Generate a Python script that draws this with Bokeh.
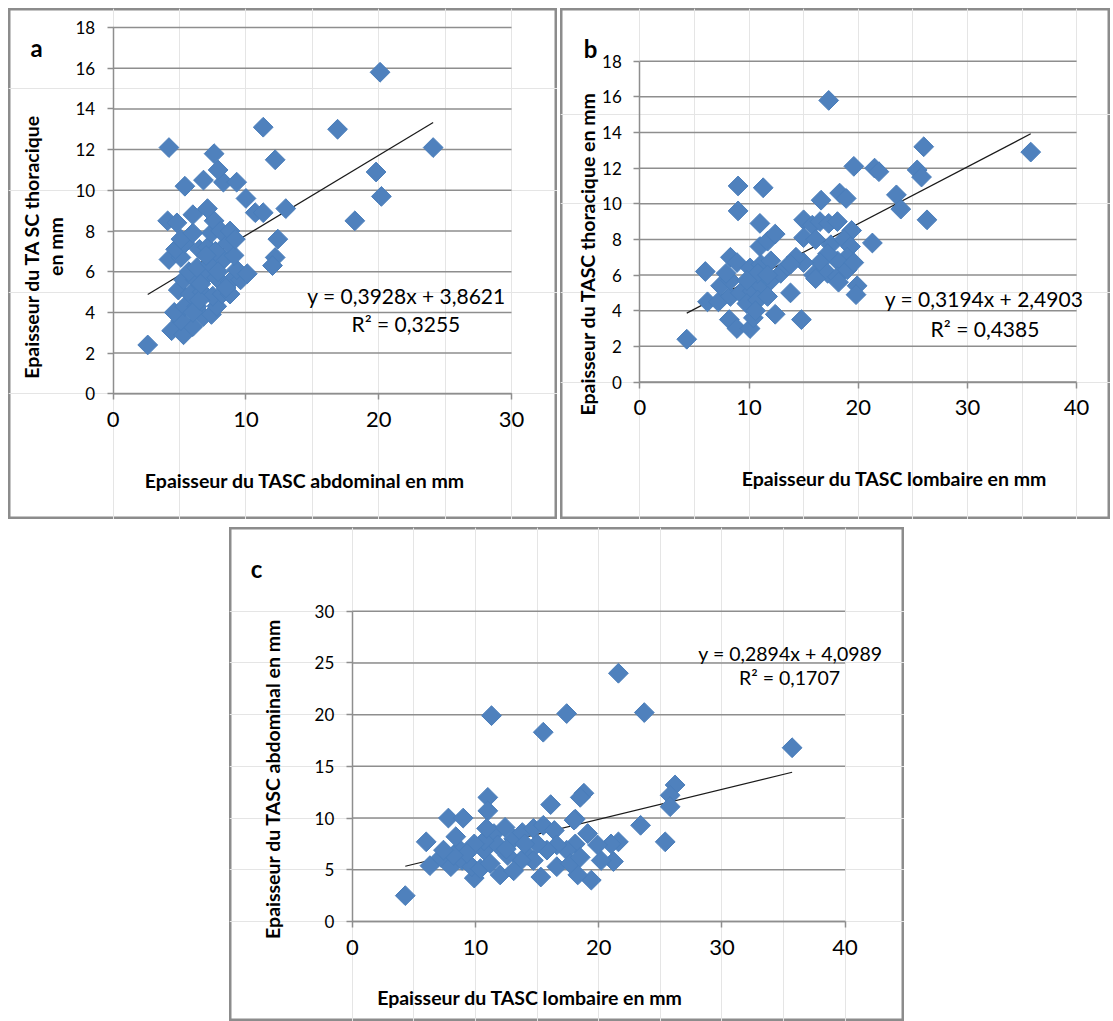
import math

from bokeh.embed import file_html
from bokeh.layouts import column, row
from bokeh.models import FixedTicker, Label, LinearAxis, Range1d, Spacer
from bokeh.plotting import figure
from bokeh.resources import INLINE

# ---------------------------------------------------------------------------
# Data: subcutaneous adipose tissue thickness (mm)
# ---------------------------------------------------------------------------

# (a) abdominal (x) vs thoracic (y)
a_abdominal = [2.6, 4.4, 5.3, 6.0, 5.1, 6.8, 7.4, 4.6, 5.4, 6.3, 6.0, 7.8,
               4.9, 5.8, 6.7, 7.5, 8.2, 8.8, 6.5, 5.3, 6.2, 7.0, 7.8, 8.8,
               9.6, 8.5, 6.6, 9.3, 10.1, 5.7, 6.3, 7.3, 8.3, 9.1, 7.9, 4.2,
               5.1, 6.5, 7.1, 7.7, 8.6, 7.0, 4.7, 5.4, 5.1, 6.0, 7.4, 7.6,
               8.1, 8.8, 9.2, 12.4, 12.2, 12.0, 4.1, 4.8, 6.0, 7.1, 10.7,
               11.3, 13.0, 10.0, 5.4, 6.8, 8.3, 9.3, 7.9, 7.6, 4.2, 12.2,
               11.3, 16.9, 20.1, 19.8, 20.2, 18.2, 24.1]
a_thoracic = [2.4, 3.1, 2.9, 3.3, 3.6, 3.8, 3.9, 4.0, 4.3, 4.3, 4.0, 4.3,
              5.1, 4.9, 5.0, 4.8, 4.9, 4.9, 4.6, 5.6, 5.6, 5.8, 5.7, 5.5,
              5.6, 5.2, 5.4, 6.1, 5.9, 6.0, 6.2, 6.4, 6.6, 6.8, 6.0, 6.6,
              6.7, 7.1, 7.2, 7.0, 7.4, 6.8, 7.1, 7.4, 7.6, 7.9, 7.9, 8.5,
              8.0, 8.0, 7.6, 7.6, 6.7, 6.3, 8.5, 8.4, 8.8, 9.1, 8.9,
              8.9, 9.1, 9.6, 10.2, 10.5, 10.4, 10.4, 11.0, 11.8, 12.1, 11.5,
              13.1, 13.0, 15.8, 10.9, 9.7, 8.5, 12.1]

# (b) lumbar (x) vs thoracic (y)
b_lumbar = [4.3, 6.0, 6.2, 7.2, 8.3, 9.2, 10.3, 11.1, 12.0, 12.9, 13.5,
            7.4, 8.3, 7.9, 8.3, 8.9, 10.1, 11.1, 12.0, 10.8, 11.7, 9.8,
            9.8, 10.8, 11.7, 12.4, 13.8, 14.8, 8.2, 8.9, 10.1, 10.4, 10.6,
            11.0, 11.7, 12.4, 11.0, 9.0, 11.3, 9.0,
            15.0, 15.8, 16.5, 17.3, 18.1, 19.4, 15.0, 16.1, 17.5, 18.7,
            19.3, 19.0, 18.1, 17.2, 16.5, 15.0, 14.3, 13.8, 15.9, 17.2,
            18.1, 19.0, 19.6, 19.9, 19.8, 18.2, 16.1, 16.6, 18.3, 18.9,
            19.6, 21.5, 21.9, 23.5, 23.9, 21.3, 25.4, 25.8, 26.0, 26.3,
            35.8, 17.3]
b_thoracic = [2.4, 6.2, 4.5, 4.5, 4.8, 5.0, 5.1, 5.4, 5.7, 6.1, 6.5,
              5.4, 5.7, 6.1, 7.0, 6.7, 6.4, 6.6, 6.8, 6.1, 6.0, 5.7,
              4.4, 4.6, 4.8, 3.8, 5.0, 3.5, 3.5, 3.0, 3.0, 3.6, 4.0,
              7.6, 7.9, 8.3, 8.9, 11.0, 10.9, 9.6,
              9.1, 8.8, 9.0, 8.9, 9.0, 8.5, 8.1, 8.0, 7.7, 8.0,
              7.6, 7.0, 6.8, 7.2, 6.7, 6.7, 7.0, 6.6, 6.0, 6.1,
              5.9, 6.3, 6.7, 5.4, 4.9, 5.6, 5.8, 10.2, 10.6, 10.3,
              12.1, 12.0, 11.8, 10.5, 9.7, 7.8, 11.9, 11.5, 13.2, 9.1,
              12.9, 15.8]

# (c) lumbar (x) vs abdominal (y)
c_lumbar = [4.3, 6.0, 6.3, 7.8, 9.0, 11.0, 11.0, 16.1, 18.8, 18.5,
            11.3, 15.5, 17.4, 23.7, 21.6, 35.7, 26.2, 25.8, 25.8,
            23.4, 18.1, 25.4, 21.6, 21.2, 20.2, 21.0, 19.4, 15.3, 12.0,
            9.9, 18.3, 16.6, 7.2, 8.0, 8.7, 8.4, 8.9, 9.7, 10.4, 10.7,
            11.5, 12.4, 13.1, 13.8, 14.7, 15.5, 16.4, 18.0, 19.1, 19.9,
            18.1, 17.4, 16.6, 15.8, 15.0, 14.2, 14.7, 13.7, 12.6, 11.8,
            10.7, 9.9, 9.3, 8.2, 7.4, 17.7, 18.5, 13.1, 11.2, 12.5,
            14.0, 10.9]
c_abdominal = [2.5, 7.7, 5.4, 10.0, 10.0, 12.0, 10.7, 11.3, 12.4, 12.0,
               19.9, 18.3, 20.1, 20.2, 24.0, 16.8, 13.2, 12.2, 11.1,
               9.3, 9.9, 7.7, 7.7, 5.8, 5.9, 7.5, 4.0, 4.3, 4.5,
               4.2, 4.5, 5.3, 6.2, 5.3, 7.0, 8.2, 5.9, 5.3, 5.1, 6.9,
               8.5, 9.1, 8.0, 8.6, 9.0, 9.3, 8.8, 9.8, 8.5, 7.4,
               7.5, 6.9, 7.4, 6.9, 7.5, 6.4, 5.9, 5.9, 6.4, 7.4,
               7.8, 7.5, 6.6, 6.4, 6.9, 5.6, 6.2, 4.9, 5.6, 7.0,
               7.5, 9.0]

# Linear trend lines (slope, intercept, R²)
a_fit = (0.3928, 3.8621, 0.3255)
b_fit = (0.3194, 2.4903, 0.4385)
c_fit = (0.2894, 4.0989, 0.1707)

# Axis limits and tick values
a_xlim, a_ylim = (0, 30), (0, 18)
b_xlim, b_ylim = (0, 40), (0, 18)
c_xlim, c_ylim = (0, 40), (0, 30)
a_xticks = [0, 10, 20, 30]
a_yticks = [0, 2, 4, 6, 8, 10, 12, 14, 16, 18]
b_xticks = [0, 10, 20, 30, 40]
b_yticks = [0, 2, 4, 6, 8, 10, 12, 14, 16, 18]
c_xticks = [0, 10, 20, 30, 40]
c_yticks = [0, 5, 10, 15, 20, 25, 30]

# ---------------------------------------------------------------------------
# Styling
# ---------------------------------------------------------------------------
FONT = "Lato"
MARKER_FILL = "#4F81BD"
MARKER_LINE = "#4A7EBB"
GRID = "#8e8e8e"
FRAME = "#8c8c8c"
TEXT = "#000000"


def fmt(v, nd):
    return f"{v:.{nd}f}".replace(".", ",")


class Geometry:
    """Maps pixel positions inside a chart box to data coordinates."""

    def __init__(self, size, plot_box, xlim, ylim):
        self.W, self.H = size
        self.L, self.R, self.T, self.B = plot_box
        self.xlim, self.ylim = xlim, ylim
        self.sx = (self.R - self.L) / (xlim[1] - xlim[0])
        self.sy = (self.B - self.T) / (ylim[1] - ylim[0])

    def x_range(self):
        return Range1d(self.xlim[0] - self.L / self.sx,
                       self.xlim[1] + (self.W - self.R) / self.sx)

    def y_range(self):
        return Range1d(self.ylim[0] - (self.H - self.B) / self.sy,
                       self.ylim[1] + self.T / self.sy)

    def data(self, px, py):
        return (self.xlim[0] + (px - self.L) / self.sx,
                self.ylim[0] + (self.B - py) / self.sy)


def add_text(p, g, text, px, py, size, bold=False, angle=0.0,
             baseline="middle"):
    x, y = g.data(px, py)
    p.add_layout(Label(x=x, y=y, text=text, angle=angle, text_align="center",
                       text_baseline=baseline, text_font=FONT,
                       text_font_size=f"{size}px",
                       text_font_style="bold" if bold else "normal",
                       text_color=TEXT))


def style_axis(ax, label_size, standoff):
    ax.axis_line_color = GRID
    ax.axis_line_width = 1.5
    ax.major_tick_line_color = GRID
    ax.major_tick_line_width = 1.5
    ax.major_tick_in = 0
    ax.major_tick_out = 6
    ax.minor_tick_line_color = None
    ax.major_label_text_font = FONT
    ax.major_label_text_font_size = f"{label_size}px"
    ax.major_label_text_color = TEXT
    ax.major_label_standoff = standoff


def panel(xs, ys, fit, g, xticks, yticks, letter, letter_pos, ylabels,
          xlabel, eq_pos, eq_size):
    p = figure(width=g.W, height=g.H, x_range=g.x_range(),
               y_range=g.y_range(), min_border=0, title=None,
               x_axis_location=None, y_axis_location=None,
               output_backend="svg", toolbar_location=None,
               background_fill_color="white", border_fill_color="white")
    # chart box border
    p.outline_line_color = FRAME
    p.outline_line_width = 4

    x0, x1 = g.xlim
    y0, y1 = g.ylim

    # horizontal gridlines at each y tick, spanning the axis extent
    p.segment(x0=[x0] * len(yticks), x1=[x1] * len(yticks),
              y0=yticks, y1=yticks, line_color=GRID, line_width=1.5)

    xaxis = LinearAxis(fixed_location=y0, bounds=(x0, x1),
                       ticker=FixedTicker(ticks=xticks))
    yaxis = LinearAxis(fixed_location=x0, bounds=(y0, y1),
                       ticker=FixedTicker(ticks=yticks))
    style_axis(xaxis, 22, 12)
    style_axis(yaxis, 17, 12)
    p.add_layout(xaxis, "below")
    p.add_layout(yaxis, "left")

    # trend line over the observed x span
    slope, intercept, r2 = fit
    lo, hi = min(xs), max(xs)
    p.line([lo, hi], [slope * lo + intercept, slope * hi + intercept],
           line_color="#1a1a1a", line_width=1.2)

    p.scatter(xs, ys, marker="square", size=14, angle=math.pi / 4,
              fill_color=MARKER_FILL, line_color=MARKER_LINE, line_width=1)

    eq = f"y = {fmt(slope, 4)}x + {fmt(intercept, 4)}"
    r2t = f"R\u00b2 = {fmt(r2, 4)}"
    add_text(p, g, eq, eq_pos[0], eq_pos[1], eq_size)
    add_text(p, g, r2t, eq_pos[2], eq_pos[3], eq_size)

    add_text(p, g, letter, letter_pos[0], letter_pos[1], 24, bold=True,
             baseline="alphabetic")
    for t, lx, ly in ylabels:
        add_text(p, g, t, lx, ly, 19.5, bold=True, angle=math.pi / 2)
    add_text(p, g, xlabel[0], xlabel[1], xlabel[2], 19.5, bold=True)
    return p


ga = Geometry((549, 511), (104.7, 503.0, 19.0, 385.3), a_xlim, a_ylim)
gb = Geometry((550, 511), (79.3, 516.1, 52.7, 373.5), b_xlim, b_ylim)
gc = Geometry((675, 494), (122.8, 615.6, 83.7, 394.0), c_xlim, c_ylim)

fa = panel(a_abdominal, a_thoracic, a_fit, ga, a_xticks, a_yticks,
           "a", (28, 39),
           [("Epaisseur du TA SC thoracique", 23, 238),
            ("en mm", 47, 238)],
           ("Epaisseur du TASC abdominal en mm", 296.5, 472),
           (398, 287, 397.4, 315.3), 21)

fb = panel(b_lumbar, b_thoracic, b_fit, gb, b_xticks, b_yticks,
           "b", (30, 40),
           [("Epaisseur du TASC thoracique en mm", 27, 245.3)],
           ("Epaisseur du TASC lombaire en mm", 334, 470),
           (423.6, 290.3, 424.5, 320.3), 21)

fc = panel(c_lumbar, c_abdominal, c_fit, gc, c_xticks, c_yticks,
           "c", (27, 41),
           [("Epaisseur du TASC abdominal en mm", 42.5, 251.3)],
           ("Epaisseur du TASC lombaire en mm", 300.5, 470),
           (561, 126.3, 560, 149.7), 19.5)

layout = column(
    Spacer(width=10, height=8),
    row(Spacer(width=8, height=10), fa, Spacer(width=3, height=10), fb),
    Spacer(width=10, height=8),
    row(Spacer(width=229, height=10), fc),
)

with open("out.html", "w") as f:
    f.write(file_html(layout, INLINE))
